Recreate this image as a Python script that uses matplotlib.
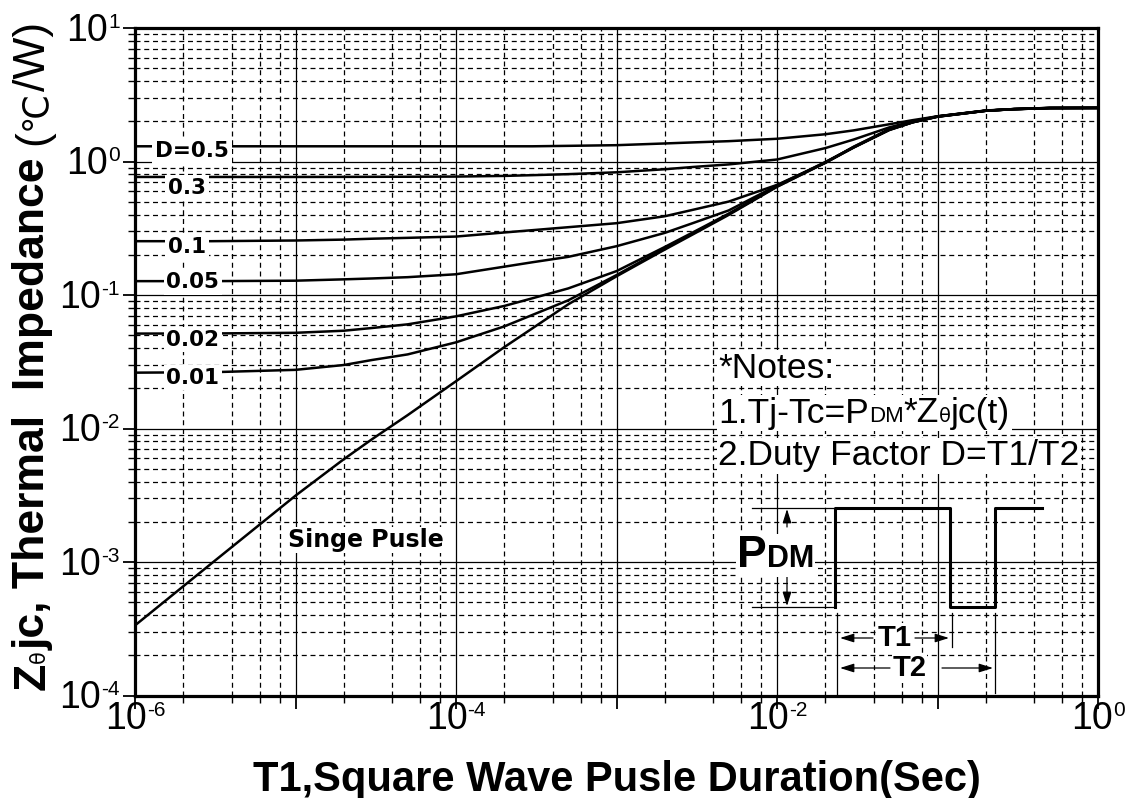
import matplotlib
matplotlib.use('Agg')
import matplotlib.pyplot as plt
from matplotlib.offsetbox import TextArea, HPacker, AnnotationBbox
from matplotlib.ticker import FixedLocator, LogLocator, NullFormatter
from matplotlib.transforms import IdentityTransform

# ---- values --------------------------------------------------------------
t1 = [1e-6, 3e-6, 1e-5, 2e-5, 3e-5, 5e-5, 1e-4, 2e-4, 3e-4, 5e-4, 1e-3, 2e-3,
      3e-3, 5e-3, 1e-2, 2e-2, 3e-2, 5e-2, 7e-2, 1e-1, 2e-1, 3e-1, 5e-1, 1.0]

z_d50 = [1.30, 1.30, 1.30, 1.30, 1.30, 1.30, 1.30, 1.30, 1.30, 1.31, 1.325, 1.365,
         1.39, 1.42, 1.48, 1.60, 1.71, 1.90, 2.04, 2.18, 2.41, 2.47, 2.52, 2.52]
z_d30 = [0.766, 0.766, 0.766, 0.767, 0.768, 0.769, 0.771, 0.78, 0.79, 0.804, 0.83, 0.875,
         0.91, 0.951, 1.035, 1.26, 1.46, 1.80, 2.0, 2.18, 2.405, 2.47, 2.52, 2.52]
z_d10 = [0.253, 0.253, 0.256, 0.260, 0.264, 0.268, 0.274, 0.294, 0.306, 0.322, 0.345, 0.389,
         0.435, 0.501, 0.668, 0.977, 1.29, 1.746, 1.98, 2.175, 2.40, 2.47, 2.515, 2.52]
z_d05 = [0.127, 0.127, 0.128, 0.131, 0.133, 0.136, 0.143, 0.163, 0.176, 0.193, 0.232, 0.292,
         0.346, 0.43, 0.661, 0.991, 1.28, 1.738, 1.97, 2.173, 2.40, 2.47, 2.515, 2.52]
z_d02 = [0.0514, 0.0515, 0.0521, 0.0540, 0.0566, 0.0603, 0.0692, 0.0828, 0.0946, 0.112, 0.151, 0.229,
         0.295, 0.407, 0.653, 0.986, 1.28, 1.730, 1.97, 2.168, 2.40, 2.466, 2.512, 2.52]
z_d01 = [0.0262, 0.0264, 0.0275, 0.0299, 0.0326, 0.0359, 0.0442, 0.0582, 0.0710, 0.0912, 0.141, 0.223,
         0.290, 0.403, 0.650, 0.982, 1.275, 1.726, 1.965, 2.168, 2.40, 2.466, 2.512, 2.52]
z_single = [3.35e-4, 9.77e-4, 3.14e-3, 5.89e-3, 8.32e-3, 0.0126, 0.0226, 0.0407, 0.0564, 0.0851, 0.138, 0.219,
            0.285, 0.398, 0.646, 0.977, 1.27, 1.718, 1.965, 2.163, 2.399, 2.466, 2.512, 2.52]

duty_names = ['D=0.5', '0.3', '0.1', '0.05', '0.02', '0.01']
duty_curves = [z_d50, z_d30, z_d10, z_d05, z_d02, z_d01]
label_left = [1.33e-6, 1.6e-6, 1.6e-6, 1.57e-6, 1.57e-6, 1.57e-6]
label_drop_px = [5, 11, 6, 1, 6, 5]

x_decades = [-6, -5, -4, -3, -2, -1, 0]
x_labeled = [-6, -4, -2, 0]
y_decades = [1, 0, -1, -2, -3, -4]

notes = ['*Notes:', '1.Tj-Tc=P', 'DM', '*Z', 'θ', 'jc(t)', '2.Duty Factor D=T1/T2']

ARIAL = 'Liberation Sans'
WIDE = 'DejaVu Sans'

W, H, DPI = 1130, 798, 100
AX_L, AX_R, AX_T, AX_B = 135, 1098, 28, 695.5


def text_runs(fig, x, y, runs, rotation=0):
    r = fig.canvas.get_renderer()
    for s, size, weight, family in runs:
        t = fig.text(x, y, s, transform=IdentityTransform(), fontsize=size,
                     fontweight=weight, family=family, rotation=rotation,
                     rotation_mode='anchor', ha='left', va='baseline')
        bb = t.get_window_extent(renderer=r)
        if rotation:
            y += bb.height
        else:
            x += bb.width


def packed(runs, align='baseline'):
    kids = [TextArea(s, textprops=dict(fontsize=size, fontweight=weight, family=fam))
            for s, size, weight, fam in runs]
    return HPacker(children=kids, align=align, pad=0, sep=0)


def fx(px):
    return (px - AX_L) / (AX_R - AX_L)


def fy(py):
    return (AX_B - py) / (AX_B - AX_T)


fig = plt.figure(figsize=(W / DPI, H / DPI), dpi=DPI)
ax = fig.add_axes([AX_L / W, (H - AX_B) / H, (AX_R - AX_L) / W, (AX_B - AX_T) / H])
ax.set_xscale('log')
ax.set_yscale('log')
ax.set_xlim(1e-6, 1)
ax.set_ylim(1e-4, 10)

# grid
ax.xaxis.set_major_locator(FixedLocator([10.0 ** e for e in x_decades]))
ax.xaxis.set_minor_locator(LogLocator(base=10, subs=[2, 4, 6, 8], numticks=50))
ax.yaxis.set_major_locator(FixedLocator([10.0 ** e for e in y_decades]))
ax.yaxis.set_minor_locator(LogLocator(base=10, subs=range(2, 10), numticks=50))
for axis in (ax.xaxis, ax.yaxis):
    axis.set_major_formatter(NullFormatter())
    axis.set_minor_formatter(NullFormatter())
ax.set_axisbelow(True)
ax.grid(which='major', color='black', lw=0.9, ls='-')
ax.grid(which='minor', color='black', lw=0.9, ls=(0, (4, 3)))
ax.tick_params(which='major', direction='out', length=9, width=1.3, color='black')
ax.tick_params(which='minor', direction='out', length=5, width=1.0, color='black')
for sp in ax.spines.values():
    sp.set_linewidth(2.3)

# curves
for z in duty_curves:
    ax.plot(t1, z, color='black', lw=1.8, solid_joinstyle='round')
ax.plot(t1, z_single, color='black', lw=1.8, solid_joinstyle='round')

for name, z, x0, drop in zip(duty_names, duty_curves, label_left, label_drop_px):
    ax.annotate(name, xy=(x0, z[0]), xytext=(0, -drop * 0.72), textcoords='offset points',
                ha='left', va='center', fontsize=15.5, fontweight='bold', family=WIDE,
                bbox=dict(fc='white', ec='none', pad=2.0), zorder=5)

ax.text(8.93e-6, 1.46e-3, 'Singe Pusle', ha='left', va='center', fontsize=17,
        fontweight='bold', family=WIDE, zorder=5,
        bbox=dict(fc='white', ec='none', pad=1.0))

# tick labels: 10 with small raised exponent
for e in x_labeled:
    box = packed([('10', 27, 'normal', ARIAL), (str(e), 15, 'normal', ARIAL)], align='top')
    ax.add_artist(AnnotationBbox(box, (10.0 ** e, 0), xycoords=ax.get_xaxis_transform(),
                                 xybox=(0, -4), boxcoords='offset points',
                                 box_alignment=(0.5, 1), frameon=False, annotation_clip=False))
for e in y_decades:
    box = packed([('10', 27, 'normal', ARIAL), (str(e), 15, 'normal', ARIAL)], align='top')
    ax.add_artist(AnnotationBbox(box, (0, 10.0 ** e), xycoords=ax.get_yaxis_transform(),
                                 xybox=(-11, -2), boxcoords='offset points',
                                 box_alignment=(1, 0.5), frameon=False, annotation_clip=False))

# notes
note_lines = [
    [(notes[0], 25.5, 'normal', ARIAL)],
    [(notes[1], 25.5, 'normal', ARIAL), (notes[2], 16, 'normal', ARIAL),
     (notes[3], 25.5, 'normal', ARIAL), (notes[4], 14, 'normal', WIDE),
     (notes[5], 25.5, 'normal', ARIAL)],
    [(notes[6], 25.5, 'normal', ARIAL)],
]
for runs, base in zip(note_lines, [377, 422, 465]):
    ax.add_artist(AnnotationBbox(packed(runs), (fx(718), fy(base + 7.5)),
                                 xycoords='axes fraction', box_alignment=(0, 0),
                                 frameon=True, pad=0.1, annotation_clip=False,
                                 bboxprops=dict(fc='white', ec='none')))

# pulse sketch
hi, lo = fy(508), fy(607)
ax.plot([fx(835), fx(835), fx(950), fx(950), fx(995), fx(995), fx(1042)],
        [lo, hi, hi, lo, lo, hi, hi], transform=ax.transAxes, color='black',
        lw=2.2, clip_on=False, zorder=6)
for yy in (hi, lo):
    ax.plot([fx(752), fx(835)], [yy, yy], transform=ax.transAxes, color='black',
            lw=0.9, zorder=6)
for xx, y_end in ((837, 696), (952, 647), (995, 693)):
    ax.plot([fx(xx), fx(xx)], [fy(613), fy(y_end)], transform=ax.transAxes,
            color='black', lw=0.9, zorder=6)

arrow = dict(arrowstyle='-|>,head_length=0.7,head_width=0.22', color='black', lw=0.9,
             shrinkA=0, shrinkB=0, mutation_scale=12)
for tail, tip in [((787, 527), (787, 509)), ((787, 573), (787, 606)),
                  ((873, 638), (840, 638)), ((915, 638), (949, 638)),
                  ((890, 668), (840, 668)), ((942, 668), (993, 668))]:
    ax.annotate('', xy=(fx(tip[0]), fy(tip[1])), xytext=(fx(tail[0]), fy(tail[1])),
                xycoords='axes fraction', arrowprops=arrow, zorder=6)

ax.add_artist(AnnotationBbox(packed([('P', 32, 'bold', ARIAL), ('DM', 22, 'bold', ARIAL)]),
                             (fx(737), fy(576)), xycoords='axes fraction',
                             box_alignment=(0, 0), frameon=True, pad=0.1,
                             bboxprops=dict(fc='white', ec='none'), zorder=7))
for s, px, py in (('T1', 894.5, 638), ('T2', 909.5, 668)):
    ax.text(fx(px), fy(py), s, transform=ax.transAxes, ha='center', va='center',
            fontsize=21, fontweight='bold', family=ARIAL, zorder=7,
            bbox=dict(fc='white', ec='none', pad=0.5))

# axis titles
fig.text((AX_L + AX_R) / 2 / W, 7 / H, 'T1,Square Wave Pusle Duration(Sec)',
         ha='center', va='baseline', fontsize=30, fontweight='bold', family=ARIAL)
text_runs(fig, 45, H - 690, [
    ('Z', 32, 'bold', ARIAL),
    ('θ', 15, 'normal', WIDE),
    ('jc, Thermal  Impedance ', 32, 'bold', ARIAL),
    ('(', 32, 'normal', ARIAL),
    ('℃', 25, 'normal', WIDE),
    ('/W)', 32, 'normal', ARIAL),
], rotation=90)

fig.savefig('out.png', dpi=DPI)
